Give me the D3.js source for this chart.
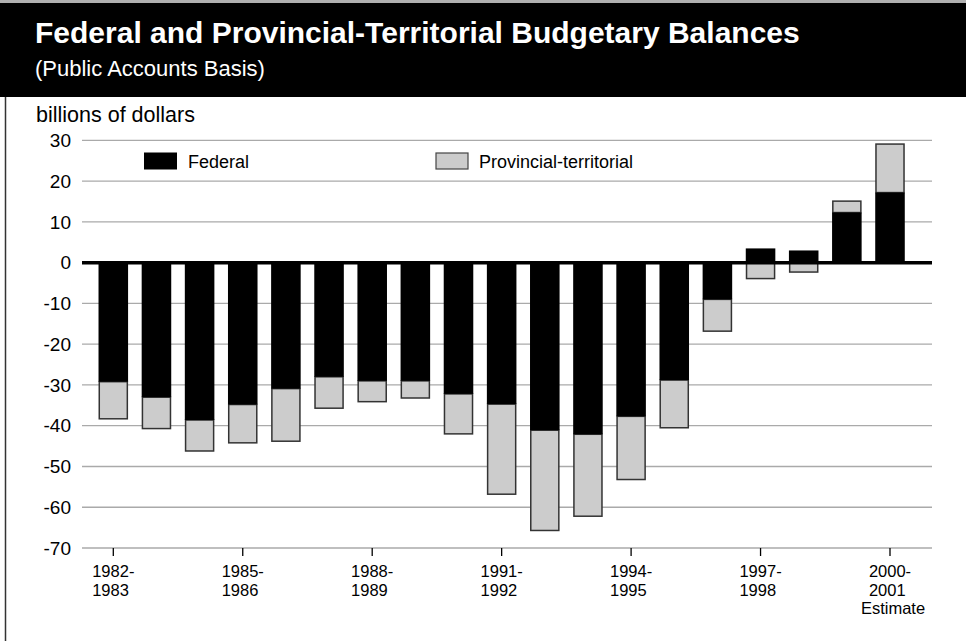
<!DOCTYPE html>
<html>
<head>
<meta charset="utf-8">
<script src="https://cdn.jsdelivr.net/npm/d3@7"></script>
<style>
  html, body { margin: 0; padding: 0; background: #fff; }
  svg { display: block; font-family: "Liberation Sans", Arial, sans-serif; }
</style>
</head>
<body>
<svg id="chart" width="966" height="641"></svg>
<script>
// Fiscal years, federal and provincial-territorial budgetary balances ($ billions)
const categories = [
  "1982-1983", "1983-1984", "1984-1985", "1985-1986", "1986-1987",
  "1987-1988", "1988-1989", "1989-1990", "1990-1991", "1991-1992",
  "1992-1993", "1993-1994", "1994-1995", "1995-1996", "1996-1997",
  "1997-1998", "1998-1999", "1999-2000", "2000-2001"
];
const federal = [
  -29.2, -33.0, -38.6, -34.8, -30.9, -28.0, -29.0, -29.0, -32.2, -34.7,
  -41.1, -42.1, -37.7, -28.8, -9.0, 3.5, 3.0, 12.3, 17.2
];
const provincial = [
  -9.1, -7.7, -7.6, -9.4, -12.9, -7.7, -5.1, -4.2, -9.8, -22.1,
  -24.6, -20.1, -15.5, -11.7, -7.8, -3.9, -2.3, 2.8, 11.9
];
const yTicks = [30, 20, 10, 0, -10, -20, -30, -40, -50, -60, -70];
const xTickCategories = ["1982-1983", "1985-1986", "1988-1989", "1991-1992", "1994-1995", "1997-1998", "2000-2001"];
const xTickLabels = [
  ["1982-", "1983"], ["1985-", "1986"], ["1988-", "1989"], ["1991-", "1992"],
  ["1994-", "1995"], ["1997-", "1998"], ["2000-", "2001", "Estimate"]
];
const seriesNames = ["Federal", "Provincial-territorial"];

const svg = d3.select("#chart");
const W = 966, H = 641;

// Header band
svg.append("rect").attr("x", 0).attr("y", 0).attr("width", W).attr("height", 3).attr("fill", "#b0b0b0");
svg.append("rect").attr("x", 0).attr("y", 3).attr("width", W).attr("height", 94).attr("fill", "#000");
svg.append("text").attr("x", 35).attr("y", 43)
  .attr("fill", "#fff").attr("font-weight", "bold").attr("font-size", 30)
  .text("Federal and Provincial-Territorial Budgetary Balances");
svg.append("text").attr("x", 35).attr("y", 76)
  .attr("fill", "#fff").attr("font-size", 22)
  .text("(Public Accounts Basis)");

// Left frame line
svg.append("line").attr("x1", 5.5).attr("x2", 5.5).attr("y1", 97).attr("y2", H)
  .attr("stroke", "#333").attr("stroke-width", 1.5);

// Unit label
svg.append("text").attr("x", 36).attr("y", 122)
  .attr("fill", "#000").attr("font-size", 21.5)
  .text("billions of dollars");

// Scales
const plotLeft = 82, plotRight = 932;
const step = 43.15;
const firstCenter = 113.3;
const x = d3.scaleBand()
  .domain(categories)
  .range([firstCenter - step / 2, firstCenter - step / 2 + step * categories.length])
  .paddingInner(0.315)
  .paddingOuter(0.1575);
const y = d3.scaleLinear().domain([-70, 30]).range([548, 140.4]);

// Gridlines
svg.append("g").selectAll("line").data(yTicks).join("line")
  .attr("x1", plotLeft).attr("x2", plotRight)
  .attr("y1", d => y(d)).attr("y2", d => y(d))
  .attr("stroke", "#aaa").attr("stroke-width", 1.3);

// Y axis labels (plain hyphen for negatives)
const yAxis = svg.append("g").attr("transform", `translate(${plotLeft},0)`)
  .call(d3.axisLeft(y).tickValues(yTicks).tickSize(0).tickPadding(11).tickFormat(d => String(d)));
yAxis.select(".domain").remove();
yAxis.selectAll("text").attr("font-size", 19).attr("fill", "#000")
  .attr("font-family", "'Liberation Sans', Arial, sans-serif");

// Stacked bars, diverging around zero
const rows = categories.map((c, i) => ({ cat: c, federal: federal[i], provincial: provincial[i] }));
const stack = d3.stack().keys(["federal", "provincial"]).offset(d3.stackOffsetDiverging);
const layers = stack(rows);
const fills = { federal: "#000", provincial: "#cccccc" };

// provincial boxes first so the black federal bars sit over their joins
[layers[1], layers[0]].forEach(layer => {
  const isProv = layer.key === "provincial";
  svg.append("g").selectAll("rect").data(layer).join("rect")
    .attr("x", d => x(d.data.cat) + (isProv ? 0.75 : 0))
    .attr("width", x.bandwidth() - (isProv ? 1.5 : 0))
    .attr("y", d => y(Math.max(d[0], d[1])))
    .attr("height", d => Math.abs(y(d[0]) - y(d[1])))
    .attr("fill", fills[layer.key])
    .attr("stroke", isProv ? "#333" : "none")
    .attr("stroke-width", isProv ? 1.5 : 0);
});

// Zero line
svg.append("line").attr("x1", plotLeft).attr("x2", plotRight)
  .attr("y1", y(0)).attr("y2", y(0))
  .attr("stroke", "#000").attr("stroke-width", 3.6);

// X axis ticks and multi-line labels
const xAxis = svg.append("g").attr("transform", `translate(0,${y(-70)})`)
  .call(d3.axisBottom(x).tickValues(xTickCategories).tickSize(8).tickFormat(""));
xAxis.select(".domain").remove();
xAxis.selectAll(".tick line").attr("stroke", "#000").attr("stroke-width", 1.3);

const lineGap = 18.6;
const labelG = svg.append("g").attr("font-size", 16.5).attr("fill", "#000");
xTickCategories.forEach((c, i) => {
  const cx = x(c) + x.bandwidth() / 2;
  const lines = xTickLabels[i];
  const first = labelG.append("text").attr("x", cx).attr("y", 577).text(lines[0]);
  const w = first.node().getComputedTextLength();
  first.attr("x", cx - w / 2);
  labelG.append("text").attr("x", cx - w / 2).attr("y", 577 + lineGap).text(lines[1]);
  if (lines[2]) {
    labelG.append("text").attr("x", cx + 3).attr("y", 577 + 2 * lineGap)
      .attr("text-anchor", "middle").text(lines[2]);
  }
});

// Legend
const legend = svg.append("g").attr("font-size", 18);
legend.append("rect").attr("x", 144).attr("y", 152.5).attr("width", 33).attr("height", 17).attr("fill", fills.federal);
legend.append("text").attr("x", 188).attr("y", 167.5).text(seriesNames[0]);
legend.append("rect").attr("x", 436).attr("y", 153).attr("width", 32).attr("height", 16)
  .attr("fill", fills.provincial).attr("stroke", "#444").attr("stroke-width", 1.2);
legend.append("text").attr("x", 479).attr("y", 167.5).text(seriesNames[1]);
</script>
</body>
</html>
